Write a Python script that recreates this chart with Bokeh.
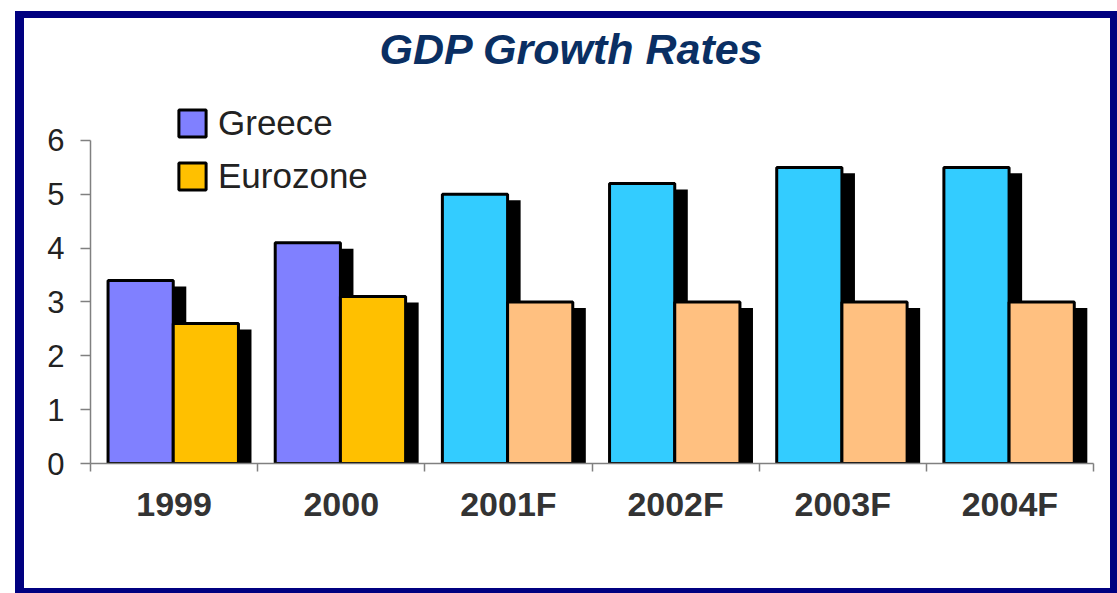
import numpy as np
from bokeh.plotting import figure
from bokeh.models import (ColumnDataSource, Range1d, LinearAxis, FixedTicker,
                          Legend, LegendItem)
from bokeh.embed import file_html
from bokeh.resources import INLINE

# ---- data -------------------------------------------------------------
categories = ["1999", "2000", "2001F", "2002F", "2003F", "2004F"]
greece = [3.4, 4.1, 5.0, 5.2, 5.5, 5.5]
eurozone = [2.6, 3.1, 3.0, 3.0, 3.0, 3.0]
y_ticks = [0, 1, 2, 3, 4, 5, 6]
title_text = "GDP Growth Rates"
series_names = ["Greece", "Eurozone"]

# ---- style ------------------------------------------------------------
FONT = "Liberation Sans"
GREECE_ACTUAL, GREECE_FC = "#8080FF", "#33CCFF"
EURO_ACTUAL, EURO_FC = "#FFC000", "#FFC080"
AXIS_GRAY = "#808080"

n = len(categories)
idx = np.arange(n)
forecast = [c.endswith("F") for c in categories]

G_OFF, E_OFF, BAR_W = 0.30, 0.69, 0.39   # positions inside each category slot
SH_DX, SH_DY = 0.078, 0.11               # drop-shadow offset
Y_TOP = 7.263                            # headroom above the axis for the legend

g_arr = np.array(greece, dtype=float)
e_arr = np.array(eurozone, dtype=float)

src_g = ColumnDataSource(dict(
    x=idx + G_OFF, top=g_arr,
    color=[GREECE_FC if f else GREECE_ACTUAL for f in forecast]))
src_e = ColumnDataSource(dict(
    x=idx + E_OFF, top=e_arr,
    color=[EURO_FC if f else EURO_ACTUAL for f in forecast]))
src_gs = ColumnDataSource(dict(x=idx + G_OFF + SH_DX, top=g_arr - SH_DY))
src_es = ColumnDataSource(dict(x=idx + E_OFF + SH_DX, top=e_arr - SH_DY))

# the canvas is measured including the CSS border, so the hidden overflow
# (16 px right, 12 px bottom) is added to the right / bottom margins
p = figure(width=1086, height=570,
           x_range=Range1d(0, n), y_range=Range1d(0, Y_TOP),
           output_backend="svg", toolbar_location=None,
           x_axis_location=None, y_axis_location=None,
           min_border_left=66, min_border_right=33,
           min_border_top=54, min_border_bottom=137,
           outline_line_color=None,
           background_fill_color="white", border_fill_color="white",
           title=title_text,
           styles={"margin-left": "15px", "margin-top": "11px",
                   "box-sizing": "content-box",
                   "border-style": "solid", "border-color": "#000080",
                   "border-width": "7px 7px 5px 9px"})
p.grid.grid_line_color = None

p.title.text_font = FONT
p.title.text_font_size = "43px"
p.title.text_font_style = "bold italic"
p.title.text_color = "#0a2f63"
p.title.align = "left"
p.title.offset = 289
p.title.standoff = 0

# shadows first, then bars
for s in (src_gs, src_es):
    p.vbar(x="x", top="top", bottom=0, width=BAR_W, source=s,
           fill_color="black", line_color=None)
rg = p.vbar(x="x", top="top", bottom=0, width=BAR_W, source=src_g,
            fill_color="color", line_color="black", line_width=3)
re_ = p.vbar(x="x", top="top", bottom=0, width=BAR_W, source=src_e,
             fill_color="color", line_color="black", line_width=3)

# y axis
yaxis = LinearAxis(ticker=FixedTicker(ticks=y_ticks, minor_ticks=[]),
                   bounds=(y_ticks[0], y_ticks[-1]),
                   axis_line_color=AXIS_GRAY, axis_line_width=1.5,
                   major_tick_line_color=AXIS_GRAY, major_tick_line_width=1.5,
                   major_tick_out=10, major_tick_in=0,
                   minor_tick_out=0, minor_tick_in=0,
                   major_label_text_font=FONT,
                   major_label_text_font_size="31px",
                   major_label_text_color="#222222",
                   major_label_standoff=16)
p.add_layout(yaxis, "left")

# x axis: labels centred in slots, tick marks on slot boundaries
centers = [float(i) + 0.5 for i in idx]
xaxis = LinearAxis(ticker=FixedTicker(ticks=centers,
                                      minor_ticks=[float(i) for i in range(n + 1)]),
                   major_label_overrides={c: lab for c, lab in zip(centers, categories)},
                   axis_line_color=AXIS_GRAY, axis_line_width=1.5,
                   major_tick_out=0, major_tick_in=0,
                   minor_tick_line_color=AXIS_GRAY, minor_tick_line_width=1.5,
                   minor_tick_out=8, minor_tick_in=0,
                   major_label_text_font=FONT,
                   major_label_text_font_size="34px",
                   major_label_text_font_style="bold",
                   major_label_text_color="#333333",
                   major_label_standoff=13)
p.add_layout(xaxis, "below")

legend = Legend(items=[LegendItem(label=series_names[0], renderers=[rg]),
                       LegendItem(label=series_names[1], renderers=[re_])],
                location=(85, 267), orientation="vertical",
                border_line_color=None, background_fill_alpha=0,
                padding=0, margin=0, spacing=13, label_standoff=9,
                glyph_width=34, glyph_height=34,
                label_text_font=FONT, label_text_font_size="35px",
                label_text_color="#222222")
p.add_layout(legend)

open("out.html", "w").write(file_html(p, INLINE))
